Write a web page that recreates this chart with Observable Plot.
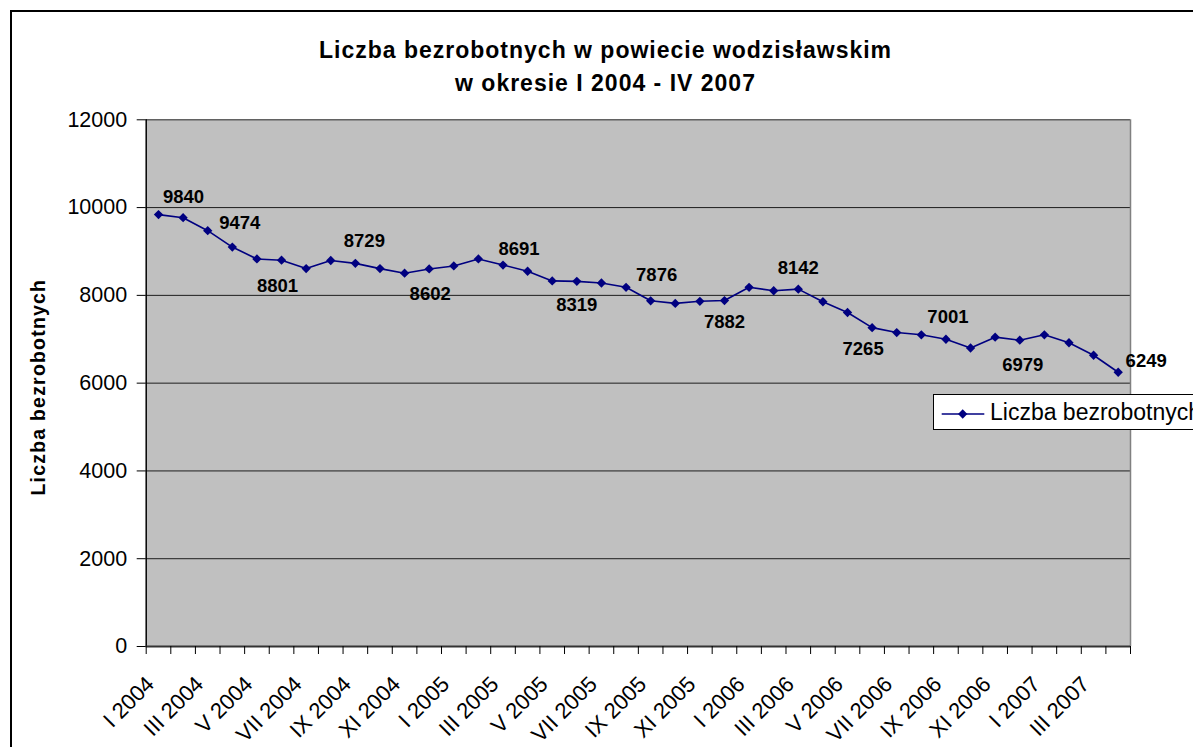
<!DOCTYPE html>
<html>
<head>
<meta charset="utf-8">
<script src="https://cdn.jsdelivr.net/npm/d3@7"></script>
<script src="https://cdn.jsdelivr.net/npm/@observablehq/plot@0.6"></script>
<style>
  html, body { margin: 0; padding: 0; background: #fff; }
  body { font-family: "Liberation Sans", Arial, sans-serif; }
  #wrap { position: relative; width: 1193px; height: 747px; overflow: hidden; background: #fff; }
  #frameBorder { position: absolute; left: 10px; top: 10px; width: 1400px; height: 1000px;
    border-left: 2px solid #000; border-top: 2px solid #000; box-sizing: border-box; }
  #title { position: relative; height: 105px; box-sizing: border-box; padding-top: 34px; padding-left: 18px;
    text-align: center; font-weight: bold; font-size: 23px; line-height: 33.4px; letter-spacing: 1px; color: #000; }
  #chart { position: relative; }
  #legend { position: absolute; left: 933px; top: 394px; width: 320px; height: 36px; box-sizing: border-box;
    border: 1px solid #000; background: #fff; }
  #legend svg { position: absolute; left: 6px; top: 0; }
  #legend span { position: absolute; left: 56px; top: 3px; font-size: 23px; line-height: 28px; white-space: nowrap; color: #000; }
</style>
</head>
<body>
<div id="wrap">
  <div id="frameBorder"></div>
  <div id="title">Liczba bezrobotnych w powiecie wodzisławskim<br>w okresie I 2004 - IV 2007</div>
  <div id="chart"></div>
  <div id="legend"></div>
</div>
<script>
const categories = [
  "I 2004","II 2004","III 2004","IV 2004","V 2004","VI 2004","VII 2004","VIII 2004","IX 2004","X 2004","XI 2004","XII 2004",
  "I 2005","II 2005","III 2005","IV 2005","V 2005","VI 2005","VII 2005","VIII 2005","IX 2005","X 2005","XI 2005","XII 2005",
  "I 2006","II 2006","III 2006","IV 2006","V 2006","VI 2006","VII 2006","VIII 2006","IX 2006","X 2006","XI 2006","XII 2006",
  "I 2007","II 2007","III 2007","IV 2007"
];
const values = [
  9840, 9770, 9474, 9100, 8830, 8801, 8610, 8795, 8729, 8610, 8505, 8602,
  8670, 8830, 8691, 8550, 8330, 8319, 8282, 8184, 7876, 7817, 7865, 7882,
  8184, 8106, 8142, 7855, 7610, 7265, 7153, 7101, 7001, 6801, 7048, 6979,
  7101, 6921, 6636, 6249
];
const labeledIndices = [0, 2, 5, 8, 11, 14, 17, 20, 23, 26, 29, 32, 35, 39];
const tickLabelIndices = [0, 2, 4, 6, 8, 10, 12, 14, 16, 18, 20, 22, 24, 26, 28, 30, 32, 34, 36, 38];
const yTicks = [0, 2000, 4000, 6000, 8000, 10000, 12000];
const seriesName = "Liczba bezrobotnych";
const yTitle = "Liczba bezrobotnych";

// label placement (offsets of the label centre from its point, in px)
const labelOffset = {
  0: [25, -17.5], 2: [32, -8], 5: [-4, 26], 8: [9, -22], 11: [1, 25], 14: [16, -16],
  17: [0, 24], 20: [6, -26], 23: [0, 22], 26: [0, -21], 29: [-9, 21], 32: [2, -22],
  35: [3, 25], 39: [28, -11]
};

const data = values.map((v, i) => ({i, pos: i + 0.5, cat: categories[i], value: v}));
const tickData = tickLabelIndices.map(i => ({pos: i + 0.5, cat: categories[i]}));
const navy = "#000080";
const font = "'Liberation Sans', Arial, sans-serif";

const labelMarks = labeledIndices.map(i => Plot.text([data[i]], {
  x: "pos", y: "value", text: d => String(d.value),
  dx: labelOffset[i][0], dy: labelOffset[i][1],
  fontSize: 18.5, fontWeight: "bold", fill: "#000"
}));

const chart = Plot.plot({
  width: 1193,
  height: 642,
  marginLeft: 145.7,
  marginRight: 63,
  marginTop: 14.3,
  marginBottom: 101,
  style: {fontFamily: font, background: "transparent", color: "#000", overflow: "visible"},
  x: {type: "linear", domain: [0, categories.length], nice: false},
  y: {domain: [0, 12000], nice: false},
  marks: [
    Plot.frame({fill: "#C0C0C0", stroke: "none"}),
    Plot.gridY(yTicks, {stroke: "#000", strokeOpacity: 0.85, strokeWidth: 1}),
    Plot.ruleX([categories.length], {stroke: "#808080", strokeWidth: 1.5}),
    Plot.ruleX([0], {stroke: "#000", strokeWidth: 1.5}),
    Plot.ruleY([0], {stroke: "#333", strokeWidth: 2}),
    Plot.axisY({ticks: yTicks, tickSize: 9, tickPadding: 10, fontSize: 21.5, label: null,
      tickFormat: d => String(d), stroke: "#000"}),
    Plot.axisX({ticks: d3.range(categories.length + 1), tickSize: 8, tickFormat: () => "", label: null}),
    Plot.text(tickData, {
      x: "pos", frameAnchor: "bottom", text: "cat",
      rotate: -45, textAnchor: "end", lineAnchor: "middle",
      dx: -8, dy: 34, fontSize: 22, fill: "#000"
    }),
    Plot.text([yTitle], {frameAnchor: "left", text: d => d, rotate: -90, textAnchor: "middle",
      lineAnchor: "middle", dx: -107.5, dy: 4, fontSize: 19.5, fontWeight: "bold", fill: "#000"}),
    Plot.line(data, {x: "pos", y: "value", stroke: navy, strokeWidth: 1.6}),
    Plot.dot(data, {x: "pos", y: "value", symbol: "diamond2", r: 4.2, fill: navy, stroke: "none"}),
    ...labelMarks
  ]
});
document.getElementById("chart").appendChild(chart);

// letter spacing of the rotated axis title
chart.querySelectorAll("text").forEach(t => {
  if (t.textContent === yTitle) t.style.letterSpacing = "1.2px";
});

// legend
const legend = document.getElementById("legend");
const lsvg = d3.create("svg").attr("width", 50).attr("height", 34);
lsvg.append("line").attr("x1", 1.7).attr("x2", 44.3).attr("y1", 19).attr("y2", 19)
  .attr("stroke", navy).attr("stroke-width", 1.6);
lsvg.append("path").attr("d", d3.symbol(d3.symbolDiamond2, Math.PI * 4.2 * 4.2)())
  .attr("transform", "translate(22.7,19)").attr("fill", navy);
legend.appendChild(lsvg.node());
const span = document.createElement("span");
span.textContent = seriesName;
legend.appendChild(span);
</script>
</body>
</html>
